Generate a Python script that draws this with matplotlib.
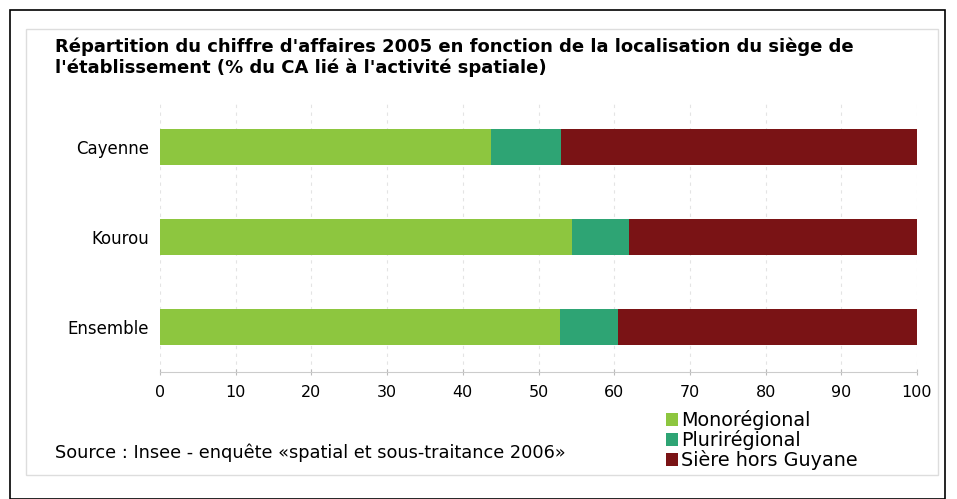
import matplotlib
matplotlib.use('Agg')
import matplotlib.pyplot as plt
from matplotlib.patches import Rectangle

# Data (% of turnover)
categories = ["Cayenne", "Kourou", "Ensemble"]
monoregional = [43.7, 54.4, 52.8]
pluriregional = [9.3, 7.6, 7.7]
hors_guyane = [47.0, 38.0, 39.5]
series_names = ["Monorégional", "Plurirégional", "Sière hors Guyane"]
colors = ["#8dc63f", "#2ea474", "#7a1315"]
xticks = [0, 10, 20, 30, 40, 50, 60, 70, 80, 90, 100]

W, H, dpi = 957, 499, 100
fig = plt.figure(figsize=(W / dpi, H / dpi), dpi=dpi, facecolor='white')
plt.rcParams['font.family'] = ['DejaVu Sans']

# outer black frame and inner light frame
fig.patches.append(Rectangle((10 / W, 0), 935 / W, 489 / H, transform=fig.transFigure,
                             fill=False, edgecolor='black', linewidth=1.2))
fig.patches.append(Rectangle((26 / W, 24 / H), 912 / W, 446 / H, transform=fig.transFigure,
                             fill=False, edgecolor='#dddddd', linewidth=1))

# axes: x 160..917 px, y 102..372 px
ax = fig.add_axes([160 / W, 1 - 372 / H, 757 / W, 270 / H])
ypos = list(range(len(categories)))
left = [0] * len(categories)
for vals, name, c in zip([monoregional, pluriregional, hors_guyane], series_names, colors):
    ax.barh(ypos, vals, left=left, height=0.4, color=c, label=name, zorder=3)
    left = [a + b for a, b in zip(left, vals)]

ax.set_xlim(0, 100)
ax.set_ylim(2.5, -0.5)
ax.set_yticks(ypos)
ax.set_yticklabels(categories, fontsize=12)
ax.set_xticks(xticks)
ax.set_xticklabels([str(t) for t in xticks], fontsize=11.5)
ax.tick_params(axis='y', length=0, pad=8)
ax.tick_params(axis='x', length=5, direction='inout', color='#bbbbbb', pad=7)
ax.grid(axis='x', linestyle=(0, (3, 4)), color='#e4e4e4', linewidth=0.8, zorder=0)
for s in ['top', 'right', 'left']:
    ax.spines[s].set_visible(False)
ax.spines['bottom'].set_color('#cccccc')

fig.text(55 / W, 1 - 47 / H, "Répartition du chiffre d'affaires 2005 en fonction de la localisation du siège de",
         fontsize=13, fontweight='bold', va='center', ha='left')
fig.text(55 / W, 1 - 68 / H, "l'établissement (% du CA lié à l'activité spatiale)",
         fontsize=13, fontweight='bold', va='center', ha='left')

fig.text(55 / W, 1 - 453 / H, "Source : Insee - enquête «spatial et sous-traitance 2006»",
         fontsize=12.8, va='center', ha='left')

ax.legend(loc='upper left', bbox_to_anchor=(666 / W, 1 - 410 / H), bbox_transform=fig.transFigure,
          frameon=False, fontsize=13.8, handlelength=0.6, handleheight=0.7, handletextpad=0.2,
          labelspacing=0.0, borderpad=0, borderaxespad=0)

fig.savefig('out.png', dpi=dpi, facecolor='white')
